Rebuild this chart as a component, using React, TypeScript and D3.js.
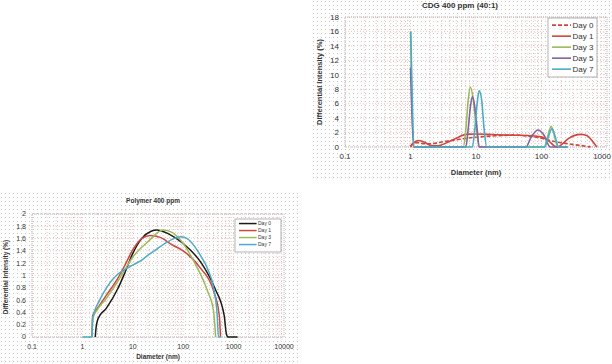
import React from "react";
import * as d3 from "d3";

type Pt = [number, number];

// ---- CDG 400 ppm (40:1) ----
const cdgTitle = "CDG 400 ppm (40:1)";
const cdgNames = ["Day 0", "Day 1", "Day 3", "Day 5", "Day 7"];
const cdgColors = ["#d0463c", "#d0463c", "#9bbb59", "#8064a2", "#4bacc6"];
const cdgDashed = [true, false, false, false, false];
const cdgDay0: Pt[] = [[1, 0.1], [1.1, 0.5], [1.3, 0.6], [1.6, 0.45], [2, 0.45], [3, 0.7], [5, 1.0], [7, 1.2], [10, 1.35], [20, 1.55], [40, 1.65], [70, 1.45], [100, 1.2], [150, 0.8], [250, 0.45], [400, 0.2], [560, 0]];
const cdgDay1: Pt[] = [[1, 0], [1.1, 0.5], [1.3, 0.9], [1.6, 0.7], [2, 0.25], [2.5, 0.15], [3, 0.3], [4, 0.8], [5.5, 1.4], [7, 1.75], [10, 1.8], [15, 1.75], [30, 1.65], [60, 1.6], [100, 1.4], [130, 0.8], [160, 0.1], [175, 0], [200, 0.3], [260, 1.2], [400, 1.75], [500, 1.55], [600, 0.8], [700, 0]];
const cdgDay3: Pt[] = [[1.0, 16], [1.12, 0], [6.4, 0], [7.0, 2.5], [7.6, 6.5], [8.2, 8.3], [9.0, 6.8], [10.0, 3], [11.2, 0], [110, 0], [122, 1.2], [140, 2.85], [158, 1.5], [178, 0], [250, 0]];
const cdgDay5: Pt[] = [[1.0, 11], [1.12, 0], [7.0, 0], [7.6, 2.5], [8.2, 5.5], [8.8, 7], [9.6, 5.5], [10.4, 2.5], [11.2, 0], [58, 0], [68, 1.2], [88, 2.35], [110, 1.6], [135, 0], [250, 0]];
const cdgDay7: Pt[] = [[1.01, 16], [1.15, 0], [8.8, 0], [9.6, 2.5], [10.4, 6], [11.2, 7.8], [12.2, 6.5], [13.3, 2.5], [14.6, 0], [112, 0], [124, 1.1], [145, 2.55], [162, 1.4], [182, 0], [250, 0]];
const cdgSeries = [cdgDay0, cdgDay1, cdgDay3, cdgDay5, cdgDay7];
const cdgYTicks = [0, 2, 4, 6, 8, 10, 12, 14, 16, 18];
const cdgXTicks = [0.1, 1, 10, 100, 1000];

// ---- Polymer 400 ppm ----
const polTitle = "Polymer 400 ppm";
const polNames = ["Day 0", "Day 1", "Day 3", "Day 7"];
const polColors = ["#1a1a1a", "#d0463c", "#9bbb59", "#4bacc6"];
const polDay0: Pt[] = [[1.8, 0], [1.85, 0.12], [2.05, 0.3], [3, 0.47], [5, 0.78], [7, 1.05], [10, 1.36], [15, 1.6], [23, 1.72], [30, 1.74], [50, 1.68], [100, 1.52], [230, 1.2], [420, 0.8], [650, 0.35], [720, 0.05], [780, 0], [1200, 0]];
const polDay1: Pt[] = [[1.55, 0], [1.6, 0.35], [2, 0.47], [3, 0.68], [5, 0.95], [7, 1.17], [10, 1.42], [15, 1.6], [22, 1.65], [35, 1.62], [60, 1.5], [100, 1.4], [220, 1.12], [400, 0.75], [520, 0.35], [550, 0]];
const polDay3: Pt[] = [[1.55, 0], [1.6, 0.3], [2, 0.45], [3, 0.63], [5, 0.9], [7, 1.1], [10, 1.3], [20, 1.55], [40, 1.74], [60, 1.7], [100, 1.52], [165, 1.22], [300, 0.76], [400, 0.42], [440, 0]];
const polDay7: Pt[] = [[1, 0], [1.55, 0], [1.6, 0.3], [2.2, 0.6], [3, 0.8], [5, 1.02], [7, 1.1], [10, 1.17], [15, 1.25], [20, 1.33], [30, 1.43], [45, 1.53], [65, 1.6], [90, 1.63], [120, 1.6], [170, 1.47], [230, 1.3], [300, 1.12], [400, 0.8], [470, 0.38], [500, 0], [560, 0]];
const polSeries = [polDay0, polDay1, polDay3, polDay7];
const polYTicks = [0, 0.2, 0.4, 0.6, 0.8, 1, 1.2, 1.4, 1.6, 1.8, 2];
const polXTicks = [0.1, 1, 10, 100, 1000, 10000];

const font = "'Liberation Sans', Arial, sans-serif";

interface ChartProps {
  region: [number, number, number, number];
  plot: [number, number, number, number];
  xDomain: [number, number];
  yDomain: [number, number];
  xTicks: number[];
  yTicks: number[];
  series: Pt[][];
  names: string[];
  colors: string[];
  dashed: boolean[];
  title: string;
  titlePos: [number, number];
  titleSize: number;
  tickSize: number;
  labelSize: number;
  xLabelY: number;
  yLabelPos: [number, number];
  legend: [number, number, number, number];
  legendRow: number;
  legendSize: number;
  lineWidth: number;
  id: string;
}

function Chart(p: ChartProps) {
  const [L, T, R, B] = p.plot;
  const x = d3.scaleLog().domain(p.xDomain).range([L, R]);
  const y = d3.scaleLinear().domain(p.yDomain).range([B, T]);
  const line = d3
    .line<Pt>()
    .x((d) => x(d[0]))
    .y((d) => y(d[1]))
    .curve(d3.curveMonotoneX);
  const minor: number[] = [];
  const [d0, d1] = p.xDomain;
  for (let dec = d0; dec < d1; dec *= 10) {
    for (let k = 1; k < 10; k++) minor.push(dec * k);
  }
  const [lx, ly, lw, lh] = p.legend;
  const fmt = (v: number) => String(v);
  return (
    <g>
      <defs>
        <pattern id={`dots${p.id}`} width={4} height={4} patternUnits="userSpaceOnUse">
          <rect x={1} y={1} width={1} height={1} fill="#c8c8c8" />
        </pattern>
        <clipPath id={`clip${p.id}`}>
          <rect x={L - 2} y={T - 2} width={R - L + 4} height={B - T + 4} />
        </clipPath>
      </defs>
      <rect x={p.region[0]} y={p.region[1]} width={p.region[2]} height={p.region[3]} fill={`url(#dots${p.id})`} />
      {minor.map((v, i) => (
        <line key={"mv" + i} x1={x(v)} x2={x(v)} y1={T} y2={B} stroke="#f2c6c6" strokeWidth={1} strokeDasharray="1,2" />
      ))}
      {p.yTicks.map((v, i) => (
        <line key={"hy" + i} x1={L} x2={R} y1={y(v)} y2={y(v)} stroke="#f2c6c6" strokeWidth={1} strokeDasharray="1,2" />
      ))}
      <rect x={L} y={T} width={R - L} height={B - T} fill="none" stroke="#b8b8b8" strokeWidth={1} strokeDasharray="1,1" />
      <g clipPath={`url(#clip${p.id})`}>
        {p.series.map((s, i) => (
          <path
            key={"s" + i}
            d={line(s) || ""}
            fill="none"
            stroke={p.colors[i]}
            strokeWidth={p.lineWidth}
            strokeDasharray={p.dashed[i] ? "4,2" : undefined}
            strokeLinejoin="round"
          />
        ))}
      </g>
      {p.yTicks.map((v, i) => (
        <text key={"yt" + i} x={L - 6} y={y(v)} dy="0.35em" textAnchor="end" fontSize={p.tickSize} fill="#333" fontFamily={font}>
          {fmt(v)}
        </text>
      ))}
      {p.xTicks.map((v, i) => {
        const half = fmt(v).length * p.tickSize * 0.28;
        const xx = Math.min(x(v), 611 - half);
        return (
          <text key={"xt" + i} x={xx} y={B + 12} textAnchor="middle" fontSize={p.tickSize} fill="#333" fontFamily={font}>
            {fmt(v)}
          </text>
        );
      })}
      <text x={p.titlePos[0]} y={p.titlePos[1]} textAnchor="middle" fontSize={p.titleSize} fontWeight="bold" fill="#333" fontFamily={font}>
        {p.title}
      </text>
      <text x={(L + R) / 2} y={p.xLabelY} textAnchor="middle" fontSize={p.labelSize} fontWeight="bold" fill="#333" fontFamily={font}>
        Diameter (nm)
      </text>
      <text
        transform={`translate(${p.yLabelPos[0]},${p.yLabelPos[1]}) rotate(-90)`}
        textAnchor="middle"
        fontSize={p.labelSize}
        fontWeight="bold"
        fill="#333"
        fontFamily={font}
      >
        Differential Intensity (%)
      </text>
      <rect x={lx} y={ly} width={lw} height={lh} fill="white" stroke="#a0a0a0" strokeWidth={0.8} />
      {p.names.map((n, i) => {
        const yy = ly + p.legendRow * (i + 0.65);
        return (
          <g key={"lg" + i}>
            <line
              x1={lx + 4}
              x2={lx + lw * 0.47}
              y1={yy}
              y2={yy}
              stroke={p.colors[i]}
              strokeWidth={p.lineWidth}
              strokeDasharray={p.dashed[i] ? "4,2" : undefined}
            />
            <text x={lx + lw * 0.5} y={yy} dy="0.35em" fontSize={p.legendSize} fill="#333" fontFamily={font}>
              {n}
            </text>
          </g>
        );
      })}
    </g>
  );
}

export default function App() {
  return (
    <svg width={612} height={364} style={{ position: "absolute", left: 0, top: 0, background: "white" }}>
      <Chart
        id="a"
        region={[312, 0, 300, 178]}
        plot={[345, 17, 607, 147]}
        xDomain={[0.1, 1000]}
        yDomain={[0, 18]}
        xTicks={cdgXTicks}
        yTicks={cdgYTicks}
        series={cdgSeries}
        names={cdgNames}
        colors={cdgColors}
        dashed={cdgDashed}
        title={cdgTitle}
        titlePos={[460, 8]}
        titleSize={8}
        tickSize={8}
        labelSize={7.5}
        xLabelY={175}
        yLabelPos={[322, 82]}
        legend={[548, 18, 49, 59]}
        legendRow={11}
        legendSize={8}
        lineWidth={1.6}
      />
      <Chart
        id="b"
        region={[0, 192, 300, 172]}
        plot={[32, 214, 284, 337]}
        xDomain={[0.1, 10000]}
        yDomain={[0, 2]}
        xTicks={polXTicks}
        yTicks={polYTicks}
        series={polSeries}
        names={polNames}
        colors={polColors}
        dashed={[false, false, false, false]}
        title={polTitle}
        titlePos={[153, 203]}
        titleSize={6.5}
        tickSize={7}
        labelSize={6.5}
        xLabelY={359}
        yLabelPos={[8, 277]}
        legend={[235, 219, 46, 33]}
        legendRow={7}
        legendSize={5}
        lineWidth={1.5}
      />
    </svg>
  );
}
